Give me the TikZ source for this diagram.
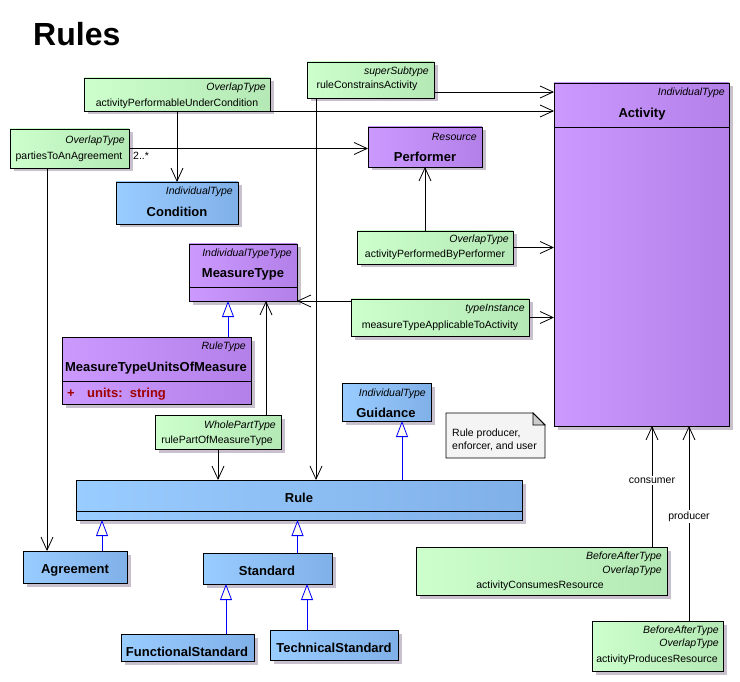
\documentclass[tikz,border=0pt]{standalone}
\usepackage{fontspec}
\setmainfont{Liberation Sans}
\usetikzlibrary{arrows.meta,shadows}
\definecolor{greenL}{RGB}{204,255,204}
\definecolor{greenR}{RGB}{180,232,180}
\definecolor{blueL}{RGB}{153,204,255}
\definecolor{blueR}{RGB}{128,176,232}
\definecolor{purpleL}{RGB}{204,153,255}
\definecolor{purpleR}{RGB}{178,128,232}
\definecolor{shadowc}{RGB}{200,192,204}
\definecolor{genblue}{RGB}{0,0,255}
\definecolor{ivory}{RGB}{255,252,240}
\definecolor{attrred}{RGB}{160,0,0}
\definecolor{notefill}{RGB}{244,244,244}
\definecolor{foldc}{RGB}{204,204,204}

\begin{document}
\begin{tikzpicture}[x=1pt,y=-1pt,
  box/.style={draw=black, line width=0.8pt, anchor=north west, inner sep=0pt, outer sep=0pt,
    drop shadow={shadow xshift=3.5pt,shadow yshift=-3.5pt,fill=shadowc,opacity=1}},
  greenbox/.style={box, left color=greenL, right color=greenR},
  bluebox/.style={box, left color=blueL, right color=blueR},
  purplebox/.style={box, left color=purpleL, right color=purpleR},
  stereo/.style={anchor=base east, inner sep=0pt, font=\fontsize{10.5}{12}\selectfont\itshape},
  clsname/.style={anchor=base, inner sep=0pt, font=\fontsize{13}{15}\selectfont\bfseries},
  txt/.style={anchor=base, inner sep=0pt, font=\fontsize{10.5}{12}\selectfont},
  rolelabel/.style={txt, fill=white, inner sep=1.5pt},
  assoc/.style={draw=black, line width=0.8pt, -{Straight Barb[length=13pt,width=12pt]}},
  gen/.style={draw=genblue, line width=0.8pt, -{Triangle[length=16pt,width=12pt,fill=ivory]}}]

  \useasboundingbox[fill=white] (0,0) rectangle (740,682);
  \node[anchor=base west, inner sep=0pt, font=\fontsize{32}{36}\selectfont\bfseries] (title) at (33,46) {Rules};

  % green relationship boxes
  \node[greenbox, minimum width=186, minimum height=33] (perfcond) at (84,78) {};
  \node[greenbox, minimum width=119, minimum height=39] (parties) at (10,129) {};
  \node[greenbox, minimum width=127, minimum height=36] (constrains) at (307,62) {};
  \node[greenbox, minimum width=156, minimum height=33] (performedby) at (357,231) {};
  \node[greenbox, minimum width=178, minimum height=37] (applicable) at (351,299) {};
  \node[greenbox, minimum width=126, minimum height=34] (partof) at (155,415) {};
  \node[greenbox, minimum width=251, minimum height=48] (consumes) at (416,547) {};
  \node[greenbox, minimum width=131, minimum height=50] (produces) at (592,621) {};

  % classes
  \node[bluebox, minimum width=122, minimum height=42] (condition) at (116,182) {};
  \node[purplebox, minimum width=114, minimum height=40] (performer) at (368,127) {};
  \node[purplebox, minimum width=175, minimum height=343] (activity) at (554,83) {};
  \node[purplebox, minimum width=108, minimum height=57] (measuretype) at (189,244) {};
  \node[purplebox, minimum width=189, minimum height=67] (unitsofmeasure) at (62,337) {};
  \node[bluebox, minimum width=89, minimum height=38] (guidance) at (342,383) {};
  \node[bluebox, minimum width=446, minimum height=40] (rule) at (76,480) {};
  \node[bluebox, minimum width=104, minimum height=32] (agreement) at (23,551) {};
  \node[bluebox, minimum width=129, minimum height=31] (standard) at (203,553) {};
  \node[bluebox, minimum width=133, minimum height=27] (functional) at (121,634) {};
  \node[bluebox, minimum width=128, minimum height=30] (technical) at (270,630) {};

  % compartment lines
  \draw[line width=0.8pt] ([yshift=-44pt]activity.north west) -- ([yshift=-44pt]activity.north east);
  \draw[line width=0.8pt] ([yshift=14pt]measuretype.south west) -- ([yshift=14pt]measuretype.south east);
  \draw[line width=0.8pt] ([yshift=23pt]unitsofmeasure.south west) -- ([yshift=23pt]unitsofmeasure.south east);
  \draw[line width=0.8pt] ([yshift=9pt]rule.south west) -- ([yshift=9pt]rule.south east);

  % note
  \draw[line width=0.8pt, fill=notefill] (446,413) -- (533,413) -- (545,425) -- (545,458) -- (446,458) -- cycle;
  \draw[line width=0.8pt, fill=foldc] (533,413) -- (533,425) -- (545,425) -- cycle;
  \node[txt, anchor=base west] (note1) at (452,436) {Rule producer,};
  \node[txt, anchor=base west] (note2) at (452,449) {enforcer, and user};

  % texts of the green boxes
  \node[stereo] (perfcond-st) at (266,91) {OverlapType};
  \node[txt] (perfcond-nm) at (177,107) {activityPerformableUnderCondition};
  \node[stereo] (parties-st) at (125,144) {OverlapType};
  \node[txt] (parties-nm) at (69,160) {partiesToAnAgreement};
  \node[stereo] (constrains-st) at (429,75) {superSubtype};
  \node[txt] (constrains-nm) at (367,89) {ruleConstrainsActivity};
  \node[stereo] (performedby-st) at (509,243) {OverlapType};
  \node[txt] (performedby-nm) at (435,258) {activityPerformedByPerformer};
  \node[stereo] (applicable-st) at (525,312) {typeInstance};
  \node[txt] (applicable-nm) at (440,328) {measureTypeApplicableToActivity};
  \node[stereo] (partof-st) at (276,428) {WholePartType};
  \node[txt] (partof-nm) at (217,443) {rulePartOfMeasureType};
  \node[stereo] (consumes-st1) at (662,559) {BeforeAfterType};
  \node[stereo] (consumes-st2) at (662,573) {OverlapType};
  \node[txt] (consumes-nm) at (540,588) {activityConsumesResource};
  \node[stereo] (produces-st1) at (719,633) {BeforeAfterType};
  \node[stereo] (produces-st2) at (719,646) {OverlapType};
  \node[txt] (produces-nm) at (657,662) {activityProducesResource};

  % texts of the classes
  \node[stereo] (condition-st) at (233,195) {IndividualType};
  \node[clsname] (condition-nm) at (177,217) {Condition};
  \node[stereo] (performer-st) at (477,141) {Resource};
  \node[clsname] (performer-nm) at (425,162) {Performer};
  \node[stereo] (activity-st) at (725,96) {IndividualType};
  \node[clsname] (activity-nm) at (642,118) {Activity};
  \node[stereo] (measuretype-st) at (292,257) {IndividualTypeType};
  \node[clsname] (measuretype-nm) at (243,278) {MeasureType};
  \node[stereo] (unitsofmeasure-st) at (246,349) {RuleType};
  \node[clsname] (unitsofmeasure-nm) at (156,371) {MeasureTypeUnitsOfMeasure};
  \node[clsname, anchor=base west, text=attrred] (units-vis) at (67,397) {+};
  \node[clsname, anchor=base west, text=attrred] (units-attr) at (87,397) {units:\ \ string};
  \node[stereo] (guidance-st) at (426,396) {IndividualType};
  \node[clsname] (guidance-nm) at (386,417) {Guidance};
  \node[clsname] (rule-nm) at (299,502) {Rule};
  \node[clsname] (agreement-nm) at (75,573) {Agreement};
  \node[clsname] (standard-nm) at (267,575) {Standard};
  \node[clsname] (functional-nm) at (187,656) {FunctionalStandard};
  \node[clsname] (technical-nm) at (334,652) {TechnicalStandard};

  % end points off the centres
  \coordinate (rcout) at ([yshift=6pt]constrains.south east);
  \coordinate (rcin) at ([xshift=9pt]constrains.south west);
  \coordinate (agrin) at ([xshift=-28pt]agreement.north);
  \coordinate (mtgen) at ([xshift=-15pt]measuretype.south);
  \coordinate (mtpart) at ([xshift=23pt]measuretype.south);
  \coordinate (gdgen) at ([xshift=15.5pt]guidance.south);
  \coordinate (agrgen) at ([xshift=27pt]agreement.north);
  \coordinate (stdgen) at ([xshift=30pt]standard.north);
  \coordinate (fsgen) at ([xshift=38.5pt]functional.north);
  \coordinate (tsgen) at ([xshift=-27pt]technical.north);
  \coordinate (consout) at ([xshift=-15pt]consumes.north east);
  \coordinate (prodout) at ([xshift=31.5pt]produces.north);

  % associations
  \draw[assoc] (perfcond.south) -- (condition.north);
  \draw[assoc] (perfcond.south east) -- (perfcond.south east -| activity.west);
  \draw[assoc] (parties.east) -- (parties.east -| performer.west);
  \node[txt, anchor=base west] (mult) at (133,160) {2..*};
  \draw[assoc] (agrin |- parties.south) -- (agrin);
  \draw[assoc] (rcout) -- (rcout -| activity.west);
  \draw[assoc] (rcin) -- (rcin |- rule.north);
  \draw[assoc] (performer.south |- performedby.north) -- (performer.south);
  \draw[assoc] (performedby.east) -- (performedby.east -| activity.west);
  \draw[assoc] (applicable.west |- measuretype.south east) -- (measuretype.south east);
  \draw[assoc] (applicable.east) -- (applicable.east -| activity.west);
  \draw[assoc] (mtpart |- partof.north) -- (mtpart);
  \draw[assoc] (partof.south) -- (partof.south |- rule.north);
  \draw[assoc] (consout) -- (consout |- activity.south);
  \node[rolelabel] (consumer) at (652,483) {consumer};
  \draw[assoc] (prodout) -- (prodout |- activity.south);
  \node[rolelabel] (producer) at (689,519) {producer};

  % generalizations
  \draw[gen] (mtgen |- unitsofmeasure.north) -- (mtgen);
  \draw[gen] (gdgen |- rule.north) -- (gdgen);
  \draw[gen] (agrgen) -- (agrgen |- rule.south);
  \draw[gen] (stdgen) -- (stdgen |- rule.south);
  \draw[gen] (fsgen) -- (fsgen |- standard.south);
  \draw[gen] (tsgen) -- (tsgen |- standard.south);

\end{tikzpicture}
\end{document}
